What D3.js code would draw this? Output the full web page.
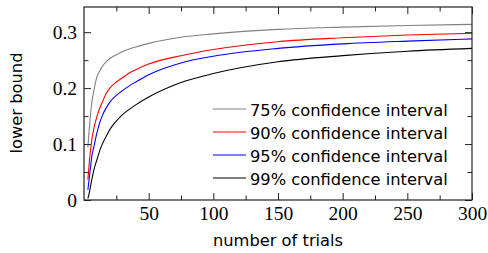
<!DOCTYPE html>
<html>
	<head>
		<meta charset="UTF-8">
		<title>Lower bound vs trials</title>
		<script src="https://cdn.jsdelivr.net/npm/d3@7"></script>
		<style>
			body { margin: 0; background: #fff; }
			.lbl { font-family: "DejaVu Sans", sans-serif; font-size: 16.3px; fill: #000; }
		</style>
	</head>
	<body>
		<script>
			// values
			var trials = [3, 4, 5, 6, 8, 10, 12, 14, 17, 20, 25, 30, 35, 40, 50, 75, 100, 150, 200, 250, 300];
			var ci75 = [0.094, 0.125, 0.152, 0.173, 0.200, 0.220, 0.230, 0.238, 0.247, 0.253, 0.2595, 0.2655, 0.270, 0.2735, 0.280, 0.291, 0.297, 0.305, 0.309, 0.312, 0.314];
			var ci90 = [0.036, 0.065, 0.088, 0.107, 0.132, 0.149, 0.163, 0.174, 0.190, 0.200, 0.211, 0.219, 0.227, 0.233, 0.243, 0.258, 0.269, 0.283, 0.290, 0.295, 0.298];
			var ci95 = [0.018, 0.038, 0.058, 0.077, 0.099, 0.120, 0.137, 0.150, 0.164, 0.175, 0.187, 0.196, 0.204, 0.211, 0.224, 0.245, 0.257, 0.271, 0.279, 0.284, 0.288];
			var ci99 = [0.003, 0.012, 0.024, 0.036, 0.057, 0.072, 0.087, 0.099, 0.113, 0.126, 0.141, 0.153, 0.162, 0.170, 0.184, 0.210, 0.226, 0.247, 0.258, 0.266, 0.271];

			var seriesNames = ["75% confidence interval", "90% confidence interval", "95% confidence interval", "99% confidence interval"];
			var seriesColors = ["#808080", "#ff0000", "#0000ff", "#000000"];
			var seriesValues = [ci75, ci90, ci95, ci99];

			var xTicks = [50, 100, 150, 200, 250, 300];
			var xMinor = [25, 75, 125, 175, 225, 275];
			var yTicks = [0, 0.1, 0.2, 0.3];
			var yMinor = [0.05, 0.15, 0.25];

			var w = 488, h = 253;
			// plot box (don't call it "top", that's window.top)
			var boxL = 84, boxR = 472, boxT = 7, boxB = 200;

			var svg = d3.select("body").append("svg")
				.attr("width", w)
				.attr("height", h);

			var x = d3.scaleLinear().domain([0, 300]).range([boxL, boxR]);
			var y = d3.scaleLinear().domain([0, 0.345]).range([boxB, boxT]);

			//curves, clipped to the plot box
			svg.append("clipPath").attr("id", "clip")
				.append("rect").attr("x", boxL).attr("y", boxT)
				.attr("width", boxR - boxL).attr("height", boxB - boxT);

			var line = d3.line()
				.x(function(d, i) { return x(trials[i]); })
				.y(function(d) { return y(d); })
				.curve(d3.curveMonotoneX);

			seriesValues.forEach(function(vals, k) {
				svg.append("path")
					.attr("clip-path", "url(#clip)")
					.attr("d", line(vals))
					.attr("fill", "none")
					.attr("stroke", seriesColors[k])
					.attr("stroke-width", 1.1);
			});

			//ticks point inward on all four sides
			function ticks(axis, vals, size, labels) {
				return axis.tickValues(vals).tickSizeInner(size).tickSizeOuter(0)
					.tickFormat(labels ? function(d) { return d; } : "");
			}
			function styleAxis(g) {
				g.attr("font-family", "Liberation Serif").attr("font-size", 19.5);
				g.select(".domain").remove();
				g.selectAll(".tick line").attr("stroke", "#222").attr("stroke-width", 1);
				g.selectAll(".tick text").attr("fill", "#000");
			}

			// bottom
			svg.append("g").attr("transform", "translate(0," + boxB + ")")
				.call(ticks(d3.axisTop(x), xMinor, 4.5, false)).call(styleAxis);
			var gx = svg.append("g").attr("transform", "translate(0," + boxB + ")")
				.call(ticks(d3.axisTop(x), xTicks, 7, true)).call(styleAxis);
			gx.selectAll(".tick text").attr("y", 13.5).attr("dy", "0.35em");
			// top
			svg.append("g").attr("transform", "translate(0," + boxT + ")")
				.call(ticks(d3.axisBottom(x), xMinor, 4.5, false)).call(styleAxis);
			svg.append("g").attr("transform", "translate(0," + boxT + ")")
				.call(ticks(d3.axisBottom(x), xTicks, 7, false)).call(styleAxis);
			// left
			svg.append("g").attr("transform", "translate(" + boxL + ",0)")
				.call(ticks(d3.axisRight(y), yMinor, 4.5, false)).call(styleAxis);
			var gy = svg.append("g").attr("transform", "translate(" + boxL + ",0)")
				.call(ticks(d3.axisRight(y), yTicks, 7, true)).call(styleAxis);
			gy.selectAll(".tick text").attr("x", -7).attr("text-anchor", "end");
			// right
			svg.append("g").attr("transform", "translate(" + boxR + ",0)")
				.call(ticks(d3.axisLeft(y), yMinor, 4.5, false)).call(styleAxis);
			svg.append("g").attr("transform", "translate(" + boxR + ",0)")
				.call(ticks(d3.axisLeft(y), yTicks, 7, false)).call(styleAxis);

			//frame
			svg.append("rect")
				.attr("x", boxL).attr("y", boxT)
				.attr("width", boxR - boxL).attr("height", boxB - boxT)
				.attr("fill", "none").attr("stroke", "#222").attr("stroke-width", 1.2);

			//legend (no box)
			var lg = svg.append("g");
			seriesNames.forEach(function(name, k) {
				var cy = 109 + k * 23;
				lg.append("line")
					.attr("x1", 213).attr("x2", 246)
					.attr("y1", cy).attr("y2", cy)
					.attr("stroke", seriesColors[k]).attr("stroke-width", 1.1);
				lg.append("text").attr("class", "lbl")
					.attr("x", 250).attr("y", cy + 6.5)
					.text(name);
			});

			//axis labels
			svg.append("text").attr("class", "lbl")
				.attr("text-anchor", "middle")
				.attr("x", (boxL + boxR) / 2).attr("y", 246)
				.text("number of trials");
			svg.append("text").attr("class", "lbl")
				.attr("text-anchor", "middle")
				.attr("transform", "translate(21.5,103) rotate(-90)")
				.text("lower bound");
		</script>
	</body>
</html>
